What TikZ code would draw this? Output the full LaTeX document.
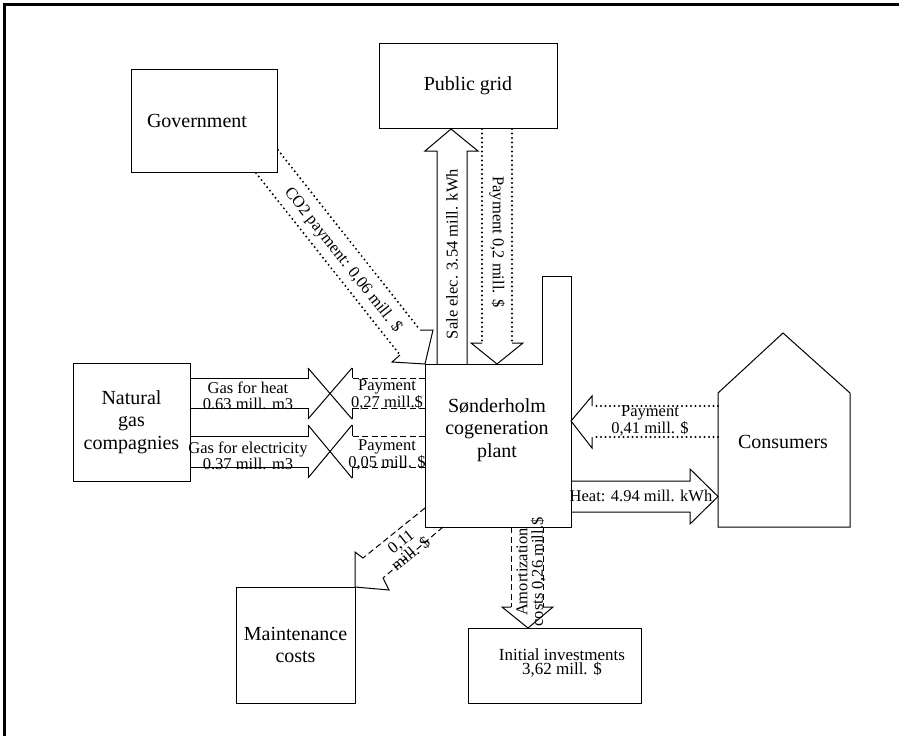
\documentclass[tikz,border=0pt]{standalone}
\usepackage{fontspec}
\setmainfont{Liberation Serif}
\newcommand\boxfont{\fontsize{20}{22.5}\selectfont}
\newcommand\flowfont{\fontsize{16.5}{15.5}\selectfont}
\begin{document}
\begin{tikzpicture}[x=1pt,y=-1pt,line join=miter,
  box/.style={draw,line width=1pt,align=center,font=\boxfont,inner sep=0pt},
  solidflow/.style={line width=1pt},
  dashflow/.style={line width=1pt,dash pattern=on 6pt off 3.5pt},
  dotflow/.style={line width=2.2pt,line cap=round,dash pattern=on 0pt off 4.5pt},
  lbl/.style={align=center,font=\flowfont,inner sep=0pt}]
\useasboundingbox (0,0) rectangle (899,736);

% outer frame (top and left edges)
\draw[line width=3pt] (4,736) -- (4,4) -- (899,4);

% actors
\node[box,minimum width=146,minimum height=103] (gov) at (204,120.5) {\hspace*{-14pt}Government};
\node[box,minimum width=178,minimum height=85] (grid) at (468,85.5) {Public grid};
\node[box,minimum width=117,minimum height=118] (gas) at (131.5,422) {Natural\\gas\\compagnies};
\node[box,minimum width=119,minimum height=116] (maint) at (295.5,645) {Maintenance\\costs};
\node[draw,line width=1pt,minimum width=173,minimum height=75,inner sep=0pt] (inv) at (554.5,665.5) {};
\node[align=center,inner sep=0pt,font=\fontsize{17}{14}\selectfont] (invtext) at (562,663) {Initial investments\\3,62 mill. \$};

% cogeneration plant with chimney
\draw[line width=1pt] (425,364) -- (542,364) -- (542,276) -- (571,276) -- (571,527) -- (425,527) -- cycle;
\node[align=center,font=\boxfont,inner sep=0pt] (plant) at (497,430) {Sønderholm\\cogeneration\\plant};

% consumers house
\draw[line width=1pt] (718,527) -- (718,393) -- (783,333) -- (850,393) -- (850,527) -- cycle;
\node[font=\boxfont,inner sep=0pt] (cons) at (783,442) {Consumers};

% electricity sold to the grid
\draw[solidflow] (437,364) -- (437,151) -- (425,151) -- (451,129) -- (478,151) -- (467,151) -- (467,364);
\node[lbl,rotate=90] (salelbl) at (452,254) {Sale elec. 3.54 mill. kWh};

% payment from the grid
\draw[dotflow] (482,129) -- (482,343);
\draw[dotflow] (512,129) -- (512,343);
\draw[solidflow] (482,343) -- (471,343) -- (497,364) -- (523,343) -- (512,343);
\node[lbl,rotate=-90] (gridpay) at (497,242) {Payment 0,2 mill. \$};

% CO2 payment from the government
\draw[dotflow] (278,150) -- (420,330);
\draw[dotflow] (256,173) -- (400,355);
\draw[solidflow] (400,355) -- (392,362) -- (425,364) -- (433,330) -- (420,330);
\node[lbl,rotate=-51.7] (co2lbl) at (343,260) {CO2 payment: 0,06 mill. \$};

% gas for heat and its payment
\draw[solidflow] (190,378) -- (308,378) -- (308,368);
\draw[solidflow] (190,408) -- (308,408) -- (308,419);
\draw[solidflow] (308,368) -- (352,419);
\draw[solidflow] (352,368) -- (308,419);
\draw[solidflow] (352,368) -- (352,378);
\draw[solidflow] (352,419) -- (352,408);
\draw[dashflow] (425,378) -- (352,378);
\draw[dashflow] (425,408) -- (352,408);
\node[lbl] (heatgas) at (248,396) {Gas for heat\\0.63 mill. m3};
\node[lbl] (heatpay) at (387,395) {Payment\\0,27 mill.\$};

% gas for electricity and its payment
\draw[solidflow] (190,436) -- (308,436) -- (308,425);
\draw[solidflow] (190,467) -- (308,467) -- (308,478);
\draw[solidflow] (308,425) -- (352,478);
\draw[solidflow] (352,425) -- (308,478);
\draw[solidflow] (352,425) -- (352,436);
\draw[solidflow] (352,478) -- (352,467);
\draw[dashflow] (425,436) -- (352,436);
\draw[dashflow] (425,467) -- (352,467);
\node[lbl] (elecgas) at (248,456) {Gas for electricity\\0.37 mill. m3};
\node[lbl] (elecpay) at (387,455) {Payment\\0,05 mill. \$};

% payment from consumers
\draw[dotflow] (718,406) -- (592,406);
\draw[dotflow] (718,437) -- (592,437);
\draw[solidflow] (592,406) -- (592,396) -- (571,421) -- (592,448) -- (592,437);
\node[lbl] (conspay) at (650,421) {Payment\\0,41 mill. \$};

% heat delivered to consumers
\draw[solidflow] (571,481) -- (690,481) -- (690,469) -- (718,496.5) -- (690,524) -- (690,512) -- (571,512);
\node[lbl] (heatlbl) at (641,496) {Heat: 4.94 mill. kWh};

% maintenance costs
\draw[dashflow] (425,508) -- (363,558);
\draw[dashflow] (443,527) -- (383,578);
\draw[solidflow] (363,558) -- (355,552) -- (355,587) -- (389,590) -- (383,578);
\node[lbl,rotate=39] (maintlbl) at (406,548) {0,11\\mill. \$};

% amortization of the initial investment
\draw[dashflow] (511,527) -- (511,607);
\draw[dashflow] (543,527) -- (543,607);
\draw[solidflow] (511,607) -- (502,607) -- (528,628) -- (553,607) -- (543,607);
\node[lbl,rotate=90] (amortlbl) at (531,572) {Amortization\\costs 0,26 mill.\$};
\end{tikzpicture}
\end{document}
